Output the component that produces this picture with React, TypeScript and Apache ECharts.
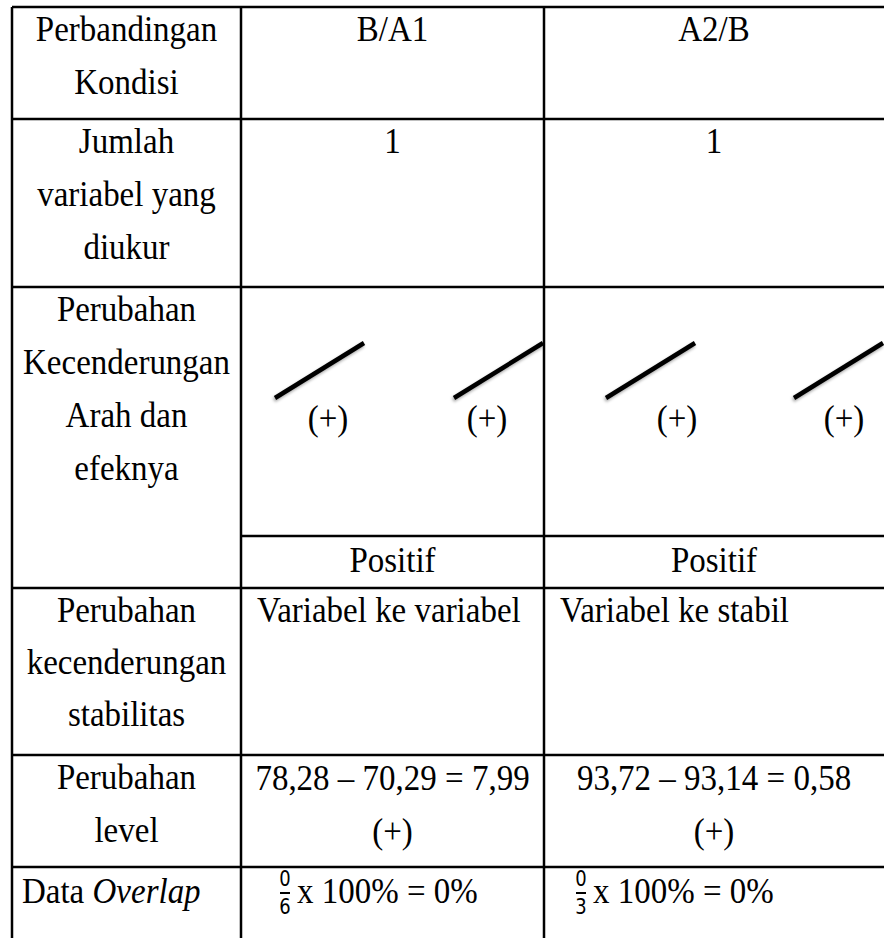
import React, { useEffect, useRef } from "react";
import * as echarts from "echarts";

// ---------- data ----------
const headerLabel = ["Perbandingan", "Kondisi"];
const conditions = ["B/A1", "A2/B"];
const rowLabels = [
  ["Jumlah", "variabel yang", "diukur"],
  ["Perubahan", "Kecenderungan", "Arah dan", "efeknya"],
  ["Perubahan", "kecenderungan", "stabilitas"],
  ["Perubahan", "level"],
];
const overlapLabel = "Data {i|Overlap}";
const variableCounts = [1, 1];
const trendSigns = [
  ["+", "+"],
  ["+", "+"],
];
const trendEffects = ["Positif", "Positif"];
const stabilityChanges = ["Variabel ke variabel", "Variabel ke stabil"];
const levelFirst = [78.28, 93.72];
const levelSecond = [70.29, 93.14];
const levelDiff = [7.99, 0.58];
const levelSign = ["+", "+"];
const overlapCount = [0, 0];
const overlapTotal = [6, 3];
const overlapPct = [0, 0];

// ---------- layout ----------
const COLX = [12, 241, 544, 884];
const ROWY = [7, 119, 287, 588, 755, 867];
const SUBROW_Y = 536;
const BOTTOM = 938;
const FONT = "'Liberation Serif', 'Times New Roman', serif";
const FS = 33;
const SY = 1.1;

const fmt = (v: number) => v.toFixed(2).replace(".", ",");

function text(x: number, y: number, t: string, opts: any = {}) {
  const align = opts.align || "center";
  return {
    type: "text",
    x,
    y,
    z: 10,
    scaleY: opts.scaleY || SY,
    style: {
      text: t,
      fill: "#000",
      fontSize: opts.fontSize || FS,
      fontFamily: opts.fontFamily || FONT,
      fontStyle: opts.fontStyle || "normal",
      align,
      verticalAlign: "middle",
      textAlign: align,
      textVerticalAlign: "middle",
      rich: opts.rich,
    },
  };
}

function line(x1: number, y1: number, x2: number, y2: number, w = 2.5) {
  return {
    type: "line",
    z: 5,
    shape: { x1, y1, x2, y2 },
    style: { stroke: "#000", lineWidth: w },
  };
}

function buildElements() {
  const els: any[] = [];
  // borders
  els.push(line(COLX[0], ROWY[0], COLX[3], ROWY[0]));
  ROWY.slice(1).forEach((y) => els.push(line(COLX[0], y, COLX[3], y)));
  els.push(line(COLX[1], SUBROW_Y, COLX[3], SUBROW_Y));
  [COLX[0], COLX[1], COLX[2]].forEach((x) => els.push(line(x, ROWY[0], x, BOTTOM + 5)));

  const c1 = (COLX[0] + COLX[1]) / 2;
  const colC = [(COLX[1] + COLX[2]) / 2, (COLX[2] + COLX[3]) / 2];

  // header
  headerLabel.forEach((t, i) => els.push(text(c1, ROWY[0] + 22 + i * 53, t)));
  conditions.forEach((t, i) => els.push(text(colC[i], ROWY[0] + 22, t)));

  // row labels
  const rowLineGap = [53, 53, 52, 53];
  rowLabels.forEach((lines, r) => {
    lines.forEach((t, i) => els.push(text(c1, ROWY[r + 1] + 22 + i * rowLineGap[r], t)));
  });

  // variable count
  variableCounts.forEach((v, i) => els.push(text(colC[i], ROWY[1] + 22, String(v))));

  // trend lines
  const trendStart = [
    [275, 454],
    [606, 794],
  ];
  const trendLabelX = [
    [328, 487],
    [677, 844],
  ];
  const trendW = 89;
  const trendH = 55;
  const trendBase = 398;
  trendSigns.forEach((signs, c) => {
    signs.forEach((s, p) => {
      const x1 = trendStart[c][p];
      const dy = s === "+" ? -trendH : trendH;
      const y1 = s === "+" ? trendBase : trendBase - trendH;
      els.push({
        type: "line",
        z: 6,
        shape: { x1, y1, x2: x1 + trendW, y2: y1 + dy },
        style: {
          stroke: "#000",
          lineWidth: 4.5,
          shadowBlur: 3,
          shadowColor: "rgba(0,0,0,0.35)",
          shadowOffsetX: -1,
          shadowOffsetY: 2,
        },
      });
      els.push(text(trendLabelX[c][p], 418, `(${s})`));
    });
  });

  // effect
  trendEffects.forEach((t, i) => els.push(text(colC[i], (SUBROW_Y + ROWY[3]) / 2 - 2, t)));

  // stability
  stabilityChanges.forEach((t, i) =>
    els.push(text(COLX[i + 1] + 16, ROWY[3] + 22, t, { align: "left" }))
  );

  // level
  levelFirst.forEach((v, i) => {
    els.push(
      text(colC[i], ROWY[4] + 23, `${fmt(v)} \u2013 ${fmt(levelSecond[i])} = ${fmt(levelDiff[i])}`)
    );
    els.push(text(colC[i], ROWY[4] + 23 + 53, `(${levelSign[i]})`));
  });

  // overlap
  const oy = ROWY[5] + 24;
  els.push(
    text(22, oy, overlapLabel, {
      align: "left",
      rich: { i: { fontStyle: "italic", fontSize: FS, fontFamily: FONT } },
    })
  );
  const fracX = [285, 581];
  const fracFont = "'DejaVu Sans', sans-serif";
  overlapCount.forEach((n, i) => {
    const fx = fracX[i];
    els.push(text(fx, oy - 12, String(n), { fontSize: 18, fontFamily: fracFont, scaleY: 1.15 }));
    els.push(line(fx - 5, oy + 2, fx + 5, oy + 2, 2));
    els.push(text(fx, oy + 16, String(overlapTotal[i]), { fontSize: 18, fontFamily: fracFont, scaleY: 1.15 }));
    els.push(text(fx + 12, oy, `x 100% = ${overlapPct[i]}%`, { align: "left" }));
  });

  return els;
}

export default function App() {
  const ref = useRef<HTMLDivElement>(null);
  useEffect(() => {
    if (!ref.current) return;
    const chart = echarts.init(ref.current, null, { renderer: "svg" });
    chart.setOption({
      animation: false,
      backgroundColor: "#fff",
      graphic: { elements: buildElements() },
    });
    return () => chart.dispose();
  }, []);
  return (
    <div
      ref={ref}
      style={{ position: "absolute", left: 0, top: 0, width: 884, height: 938, background: "#fff" }}
    />
  );
}
